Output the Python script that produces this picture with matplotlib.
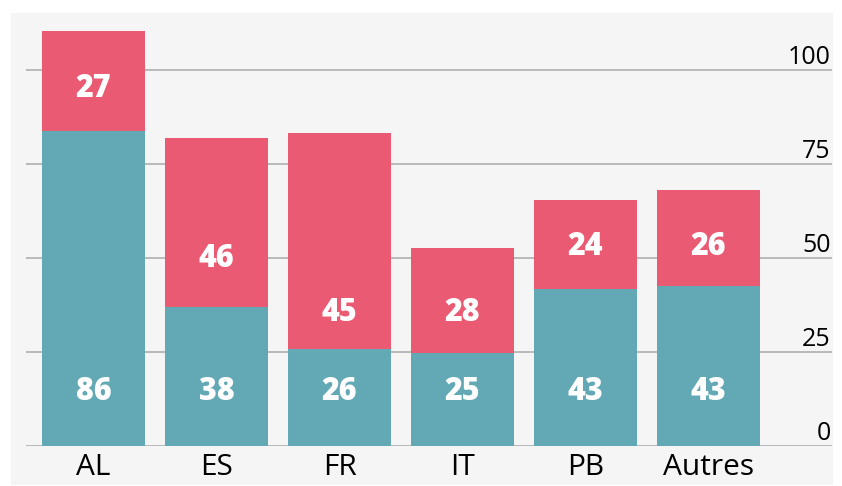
import matplotlib
matplotlib.use('Agg')
import matplotlib.pyplot as plt
from matplotlib.patches import Rectangle

# Categories and values
categories = ['AL', 'ES', 'FR', 'IT', 'PB', 'Autres']
# bar heights as drawn
teal_heights = [83.8, 37.0, 25.7, 24.6, 41.8, 42.6]
red_heights = [26.6, 45.0, 57.6, 28.1, 23.6, 25.5]
# printed labels
teal_labels = ['86', '38', '26', '25', '43', '43']
red_labels = ['27', '46', '45', '28', '24', '26']
red_label_y = [95.0, 49.8, 35.3, 35.3, 52.8, 52.8]
teal_label_y = 14.3
yticks = [0, 25, 50, 75, 100]

TEAL = '#62a9b5'
RED = '#ea5a73'
BG = '#f5f5f5'
GRID = '#b4b4b4'

num_font = ['Open Sans', 'DejaVu Sans']
tick_font = ['Open Sans', 'DejaVu Sans']

fig = plt.figure(figsize=(8.42, 4.86), dpi=100)
fig.patch.set_facecolor('white')
# light grey panel behind everything
panel = Rectangle((10.5 / 842, 1 - 485 / 486), (833 - 10.5) / 842, (485 - 12.7) / 486,
                  transform=fig.transFigure, facecolor=BG, edgecolor='none', zorder=-10)
fig.add_artist(panel)

ax = fig.add_axes([26 / 842, 1 - 446 / 486, (832 - 26) / 842, (446 - 12.7) / 486])
ax.set_zorder(1)
ax.set_facecolor('none')
x = list(range(len(categories)))
ax.bar(x, teal_heights, width=0.837, color=TEAL, zorder=2)
ax.bar(x, red_heights, width=0.837, bottom=teal_heights, color=RED, zorder=2)

for i in x:
    ax.text(i, teal_label_y, teal_labels[i], ha='center', va='center', color='white',
            fontsize=22, fontweight='heavy', family=num_font, zorder=3)
    ax.text(i, red_label_y[i], red_labels[i], ha='center', va='center', color='white',
            fontsize=22, fontweight='heavy', family=num_font, zorder=3)

ax.set_xlim(-0.549, 6.004)
ax.set_ylim(0, 115.2)
ax.set_yticks(yticks)
ax.yaxis.grid(True, color=GRID, linewidth=1.3, zorder=1)
ax.set_axisbelow(True)
ax.yaxis.set_ticks_position('right')
ax.tick_params(axis='y', length=0, pad=-1, labelsize=18)
for lbl in ax.get_yticklabels():
    lbl.set_ha('right')
    lbl.set_va('bottom')
    lbl.set_family(tick_font)
ax.set_xticks(x)
ax.set_xticklabels(categories, fontsize=21.5, family=tick_font)
ax.tick_params(axis='x', length=0, pad=5)
for s in ax.spines.values():
    s.set_visible(False)

fig.savefig('out.png', dpi=100)
